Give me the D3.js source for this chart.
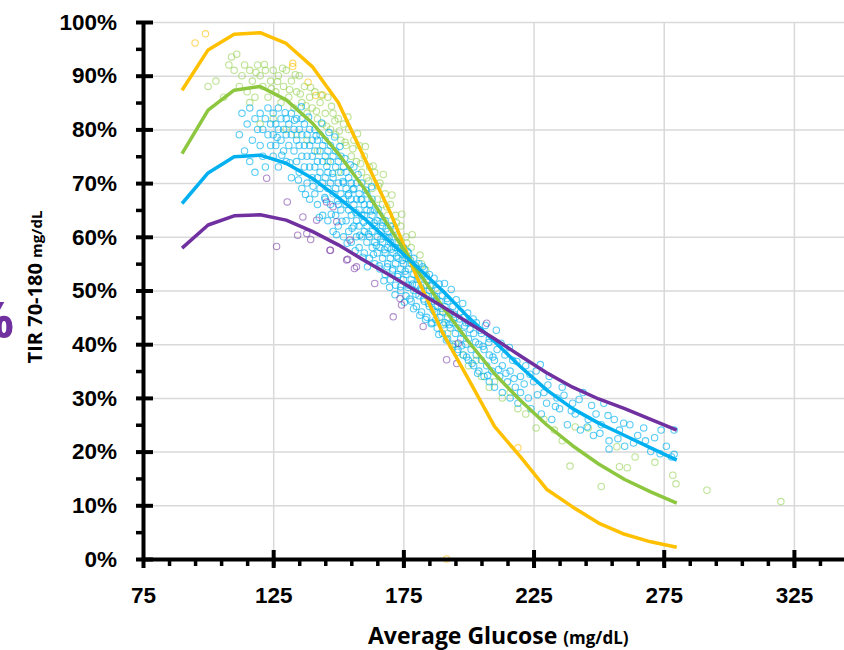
<!DOCTYPE html>
<html>
<head>
<meta charset="utf-8">
<script src="https://cdn.jsdelivr.net/npm/d3@7"></script>
<style>
  body { margin: 0; background: #fff; }
  svg { display: block; font-family: "Open Sans", sans-serif; }
  .grid line { stroke: #d9d9d9; stroke-width: 1.5; }
  .grid path { display: none; }
  .axis path, .axis line { stroke: #000; }
  .axis text { font-weight: 700; font-size: 22.5px; fill: #000; }
</style>
</head>
<body>
<svg id="chart"></svg>
<script>
// glucose bins of the model curves (mg/dL)
const glucose = [90, 100, 110, 120, 130, 140, 150, 160, 170, 180, 190, 200, 210, 220, 230, 240, 250, 260, 270, 280];

// TIR % per curve
const tirYellow = [87.3, 94.8, 97.7, 98.0, 96.0, 91.7, 85.0, 74.7, 64.5, 52.7, 42.2, 33.5, 24.7, 19.0, 13.0, 9.7, 6.7, 4.6, 3.2, 2.2];
const tirGreen  = [75.5, 83.6, 87.3, 88.0, 85.5, 81.2, 75.5, 69.0, 61.5, 54.0, 47.0, 40.5, 34.5, 29.5, 25.0, 21.1, 17.7, 14.8, 12.5, 10.4];
const tirBlue   = [66.2, 71.9, 74.9, 75.2, 73.7, 70.9, 67.3, 63.4, 59.0, 54.5, 50.0, 45.0, 40.5, 35.8, 31.5, 28.0, 25.3, 23.0, 20.7, 18.4];
const tirPurple = [57.9, 62.2, 63.9, 64.1, 63.1, 61.0, 58.5, 55.6, 52.8, 49.9, 47.0, 44.0, 41.0, 37.8, 34.7, 32.0, 29.8, 28.0, 26.0, 24.0];

// scatter points [glucose, TIR %]
const ptsYellow = [[95,96.1],[99,97.8],[132.5,92.3],[132.5,91.7],[138.4,88.8],[141.3,86.3],[144,86.4],[191.6,0],[219,20.7]];

const ptsGreen = [[100,88],[103,89],[106,86],[108,92],[109,93.5],[110,91],[111,94],[112,88],[113,90],[114,92],[115,87],[116,91],[116,85],
  [117,89],[118,86],[119,92],[120,90],[120,81],[121,88],[122,91],[123,86],[124,89],[125,91],[125,82],[126,87],[127,90],[128,85],[129,88],
  [130,91],[130,80],[131,86],[132,89],[133,84],[134,87],[134,79],[135,90],[136,85],[137,88],[138,83],[138,78],[139,86],[140,84],[141,87],
  [142,82],[142,76],[143,85],[144,81],[145,83],[146,86],[146,74],[147,80],[148,83],[149,79],[150,82],[150,72],[151,78],[152,81],[153,77],
  [154,80],[155,75],[156,78],[157,74],[158,77],[159,72],[160,75],[161,71],[162,73],[163,69],[164,72],[165,67],[166,70],[167,66],[168,68],
  [169,64],[170,66],[171,62],[172,64],[173,60],[174,62],[175,58],[176,60],[177,56],[178,58],[180,54],[182,55],[184,51],[186,49],[188,46],
  [190,44],[192,42],[195,40],[198,38],[200,36],[203,37],[205,34],[208,32],[210,33],[213,30],[216,31],[219,28],[222,27],[226,24.4],[229,26],
  [233,24],[236,22],[239,17.3],[241,24.6],[246,24.4],[251,13.5],[257,20.9],[258,17.2],[261,17],[264,19],[271.6,18],[278.5,15.6],
  [279.7,14],[291.6,12.8],[320,10.7],
  [118.4,90.6],[121.6,92.1],[124.3,87.6],[126.7,88.9],[128.6,91.4],[131.3,87.4],[133.5,90.2],[135.4,86.6],[137.6,84.4],[139.4,87.8],
  [141.6,83.4],[143.4,86.4],[145.5,80.6],[147.4,84.3],[148.7,81.6],[150.4,79.7],[152.6,77.6],[153.7,82.3],[155.6,76.4],[157.4,79.2],
  [158.6,73.6],[160.4,76.8],[161.7,70.4],[163.4,73.2],[165.5,69.4],[167.3,71.6],[168.6,65.6],[170.6,67.8],[172.4,62.6],[174.4,64.2],
  [176.3,58.8],[178.4,60.4],[181.4,56.6],[183.6,53.8],[187.4,50.4],[191.4,45.8]];

const ptsBlue = [[112,79],[113,83],[114,76],[115,81],[116,74],[116,84],[117,78],[118,72],[118,82],[119,80],[120,77],[120,83],[121,75],
  [121,80],[122,82],[122,73],[123,79],[123,84],[124,77],[124,81],
  [125,75],[125,79],[125,83],[126,81],[126,77],[127,73],[127,80],[127,84],[128,78],[128,82],[129,76],[129,80],[130,74],[130,79],[130,82],
  [131,77],[131,81],[132,71],[132,79],[132,83],[133,76],[133,80],[134,74],[134,78],[134,82],
  [135,72],[135,77],[135,80],[136,69],[136,75],[136,79],[136,82],[137,73],[137,77],[137,81],[138,70],[138,75],[138,79],[139,67],[139,73],
  [139,77],[139,80],[140,71],[140,75],[140,78],[141,68],[141,73],[141,76],[141,80],[142,66],[142,71],[142,74],[142,78],[143,69],[143,72],
  [143,76],[143,79],[144,64],[144,70],[144,74],[144,77],
  [145,67],[145,71],[145,75],[145,78],[146,63],[146,69],[146,72],[146,76],[147,66],[147,70],[147,74],[147,77],[148,61],[148,68],[148,71],
  [148,75],[149,64],[149,69],[149,73],[149,76],[150,62],[150,66],[150,70],[150,74],[151,65],[151,68],[151,72],[151,75],[152,60],[152,67],
  [152,70],[152,73],[153,63],[153,66],[153,69],[153,72],[154,61],[154,65],[154,68],[154,71],
  [155,59],[155,64],[155,67],[155,70],[156,62],[156,66],[156,69],[156,73],[157,60],[157,63],[157,67],[157,70],[158,58],[158,62],[158,65],
  [158,68],[159,60],[159,64],[159,67],[159,70],[160,57],[160,61],[160,64],[160,66],[161,59],[161,62],[161,65],[161,68],[162,56],[162,60],
  [162,63],[162,66],[163,58],[163,61],[163,64],[163,67],[164,55],[164,59],[164,62],[164,65],
  [165,57],[165,60],[165,63],[166,54],[166,58],[166,61],[166,64],[167,56],[167,59],[167,62],[168,53],[168,57],[168,60],[168,63],[169,55],
  [169,58],[169,61],[170,52],[170,56],[170,59],[170,62],[171,54],[171,57],[171,60],[172,51],[172,55],[172,58],[173,53],[173,56],[173,59],
  [174,50],[174,54],[174,57],
  [175,52],[175,55],[175,58],[176,49],[176,53],[176,56],[177,51],[177,54],[177,57],[178,48],[178,52],[178,55],[179,50],[179,53],[179,56],
  [180,47],[180,51],[180,54],[181,49],[181,52],[181,55],[182,46],[182,50],[182,53],[183,48],[183,51],[183,54],[184,45],[184,49],[184,52],
  [185,47],[185,50],[185,53],[186,44],[186,48],[186,51],[187,46],[187,49],[188,43],[188,47],[188,50],[189,45],[189,48],[190,42],[190,46],
  [190,49],[191,44],[191,47],[192,41],[192,45],[192,48],[193,43],[193,46],[194,40],[194,44],[194,47],[195,42],[195,45],[196,39],[196,43],
  [197,41],[197,46],[198,38],[198,42],[198,45],[199,40],[199,44],[200,37],[200,41],[200,44],
  [201,39],[202,36],[202,42],[203,38],[203,44],[204,35],[204,40],[205,37],[205,42],[206,34],[206,39],[207,36],[208,33],[208,38],[208,41],
  [209,35],[210,32],[210,37],[211,39],[212,34],[213,31],[213,36],[214,38],[215,33],[216,30],[216,35],[217,37],[218,32],[219,29],[220,34],
  [220,31],[222,36],[223,30],[224,28],[225,33],[226,35],[228,27],[229,31],[230,29],[231,34],[232,26],[234,30],[235,28],[236,32],[238,25],
  [240,29],[241,27],[243,24],[244,31],[246,26],[248,23],[249,27],[251,25],[252,29],[254,22],[254,20.5],[256,26],[258,24],[260,21],[262,25],
  [265,23],[268,22],[270,20],[274,24],[276,21],[278,19],[279,24],[279,19.5],
  [126.5,78.5],[128.3,75.2],[129.6,83.1],[131.4,73.8],[133.2,81.7],[134.7,70.6],[135.8,84.2],[137.4,67.9],[138.6,82.3],[140.3,69.4],
  [141.5,78.8],[142.7,63.6],[143.6,81.2],[144.8,67.3],[145.6,73.1],[146.4,79.4],[147.3,64.2],[147.8,71.8],[148.6,78.6],[149.3,60.4],
  [149.7,66.7],[150.6,76.8],[151.4,62.9],[151.8,70.3],[152.5,74.6],[153.4,58.8],[153.8,67.7],[154.6,73.4],[155.3,61.6],[155.7,68.8],
  [156.5,57.4],[156.8,64.5],[157.6,71.6],[158.3,60.3],[158.7,66.9],[159.4,56.2],[159.8,62.7],[160.5,68.7],[161.2,54.4],[161.6,60.5],
  [162.4,64.8],[162.8,69.3],[163.5,56.7],[163.8,62.6],[164.6,58.4],[165.3,65.2],[165.7,54.6],[166.4,59.6],[166.8,62.7],[167.5,51.8],
  [167.7,57.6],[168.4,61.5],[168.8,54.4],[169.5,59.8],[169.7,50.6],[170.4,57.7],[170.8,53.7],[171.5,61.4],[171.8,49.2],[172.4,56.4],
  [172.8,52.6],[173.5,57.8],[173.9,50.7],[174.6,55.6],[175.4,47.8],[175.7,53.6],[176.5,57.3],[176.8,50.6],[177.5,48.4],[177.8,55.6],
  [178.5,51.2],[178.9,46.6],[179.5,54.7],[179.8,49.3],[180.6,52.6],[181.3,45.4],[181.7,50.5],[182.4,54.4],[182.8,48.4],[183.5,44.6],
  [183.8,52.7],[184.6,47.6],[185.3,50.8],[185.7,43.8],[186.4,46.4],[186.8,52.3],[187.5,44.6],[187.8,48.4],[188.6,41.8],[188.8,51.2],
  [189.6,46.7],[190.4,43.6],[190.8,51.3],[191.5,40.8],[191.8,48.5],[192.6,43.6],[193.4,50.2],[193.8,39.6],[194.5,45.6],[195.3,48.3],
  [195.7,38.5],[196.6,44.7],[197.4,39.7],[197.8,47.6],[198.6,43.4],[199.3,37.6],[199.7,45.8],[200.6,42.8],[201.4,36.4],[201.8,44.7],
  [202.7,40.4],[203.5,34.6],[204.4,42.6],[205.6,39.6],[206.5,43.5],[207.4,34.2],[207.8,40.3],[209.4,37.6],[210.7,42.6],[211.6,35.3],
  [212.5,40.2],[214.4,34.6],[215.7,39.4],[217.5,33.6],[218.6,36.8],[221.4,32.6],[223.6,34.4],[226.5,30.6],[227.6,36.2],[230.5,32.4],
  [233.4,28.4],[236.7,30.5],[239.5,27.6],[242.5,29.7],[245.6,24.6],[247.3,28.6],[250.5,23.4],[253.6,26.7],[257.4,22.4],[259.6,25.3],
  [263.4,21.6],[267.3,24.4],[271.5,22.6],[273.6,19.6]];

const ptsPurple = [[122.5,70.9],[126.3,58.2],[130.4,66.5],[134.4,60.3],[136.4,63.7],[137.9,60.6],[139.4,59.5],[141.7,63.1],[145.5,66.5],
  [146.8,57.5],[147,57.5],[148,65.6],[149.4,62.8],[153.2,55.7],[153.6,55.8],[154.5,59.4],[156.2,54.1],[157,54.4],[164,51.3],[171.1,45.1],
  [173.7,48.5],[174.3,47.3],[182.6,43.3],[191.6,37.1],[195.5,36.4],[196.1,40.2],[207,43.9]];

const xTicks = [75, 125, 175, 225, 275, 325];

const width = 844, height = 650;
const svg = d3.select("#chart").attr("width", width).attr("height", height);

const x = d3.scaleLinear().domain([75, 350]).range([143, 859]);
const y = d3.scaleLinear().domain([0, 100]).range([559, 22]);

// gridlines
svg.append("g").attr("class", "grid")
  .attr("transform", `translate(${x(75)},0)`)
  .call(d3.axisLeft(y).tickValues(d3.range(10, 101, 10)).tickSize(-(width - x(75))).tickFormat(""));
svg.append("g").attr("class", "grid")
  .attr("transform", `translate(0,${y(0)})`)
  .call(d3.axisBottom(x).tickValues(xTicks.slice(1)).tickSize(-(y(0) - y(100))).tickFormat(""));

// scatter
function dots(data, color, op) {
  svg.append("g").selectAll("circle")
    .data(data)
    .enter()
    .append("circle")
    .attr("cx", d => x(d[0]))
    .attr("cy", d => y(d[1]))
    .attr("r", 3.2)
    .attr("fill", "none")
    .attr("stroke", color)
    .attr("stroke-opacity", op)
    .attr("stroke-width", 1.1);
}
dots(ptsYellow, "#ffc000", 0.6);
dots(ptsGreen, "#92d050", 0.6);
dots(ptsBlue, "#00b0f0", 0.65);
dots(ptsPurple, "#7030a0", 0.55);

// curves
const line = d3.line().x((d, i) => x(glucose[i])).y(d => y(d));
[[tirYellow, "#ffc000"], [tirGreen, "#8dc63f"], [tirBlue, "#00b0f0"], [tirPurple, "#7030a0"]].forEach(([vals, color]) => {
  svg.append("path")
    .datum(vals)
    .attr("d", line)
    .attr("fill", "none")
    .attr("stroke", color)
    .attr("stroke-width", 3.5)
    .attr("stroke-linejoin", "round");
});

// y axis: minor, major (both sides)
svg.append("g").attr("class", "axis")
  .attr("transform", `translate(${x(75)},0)`)
  .call(d3.axisLeft(y).tickValues(d3.range(5, 100, 10)).tickSize(7).tickFormat(""))
  .call(g => g.selectAll("line").attr("stroke-width", 3.5))
  .call(g => g.select(".domain").remove());
svg.append("g").attr("class", "axis")
  .attr("transform", `translate(${x(75)},0)`)
  .call(d3.axisRight(y).tickValues(d3.range(0, 101, 10)).tickSize(10).tickFormat(""))
  .call(g => g.selectAll("line").attr("stroke-width", 4))
  .call(g => g.select(".domain").remove());
svg.append("g").attr("class", "axis")
  .attr("transform", `translate(${x(75)},0)`)
  .call(d3.axisLeft(y).tickValues(d3.range(0, 101, 10)).tickSize(7).tickSizeOuter(0).tickPadding(19).tickFormat(d => d + "%"))
  .call(g => g.selectAll("line").attr("stroke-width", 4))
  .call(g => g.select(".domain").attr("stroke-width", 4));

// x axis: minor, major (both sides)
svg.append("g").attr("class", "axis")
  .attr("transform", `translate(0,${y(0)})`)
  .call(d3.axisBottom(x).tickValues(d3.range(85, 350, 10)).tickSize(7).tickFormat(""))
  .call(g => g.selectAll("line").attr("stroke-width", 3.5))
  .call(g => g.select(".domain").remove());
svg.append("g").attr("class", "axis")
  .attr("transform", `translate(0,${y(0)})`)
  .call(d3.axisTop(x).tickValues(xTicks.slice(1)).tickSize(9).tickFormat(""))
  .call(g => g.selectAll("line").attr("stroke-width", 4))
  .call(g => g.select(".domain").remove());
svg.append("g").attr("class", "axis")
  .attr("transform", `translate(0,${y(0)})`)
  .call(d3.axisBottom(x).tickValues(xTicks).tickSize(9).tickSizeOuter(0).tickPadding(19))
  .call(g => g.selectAll("line").attr("stroke-width", 4))
  .call(g => g.select(".domain").attr("stroke-width", 4));

// titles
const yt = svg.append("text")
  .attr("transform", "translate(42,287) rotate(-90)")
  .attr("text-anchor", "middle")
  .attr("font-weight", 700)
  .attr("fill", "#000");
yt.append("tspan").attr("font-size", 20).text("TIR 70-180 ");
yt.append("tspan").attr("font-size", 15).text("mg/dL");

const xt = svg.append("text")
  .attr("x", 368)
  .attr("y", 644)
  .attr("font-weight", 700)
  .attr("fill", "#000");
xt.append("tspan").attr("font-size", 23).text("Average Glucose ");
xt.append("tspan").attr("font-size", 17).text("(mg/dL)");

// clipped purple glyph at the left edge
svg.append("text")
  .attr("x", 14)
  .attr("y", 338)
  .attr("text-anchor", "end")
  .attr("font-size", 50)
  .attr("font-weight", 700)
  .attr("fill", "#7030a0")
  .text("%");
</script>
</body>
</html>
